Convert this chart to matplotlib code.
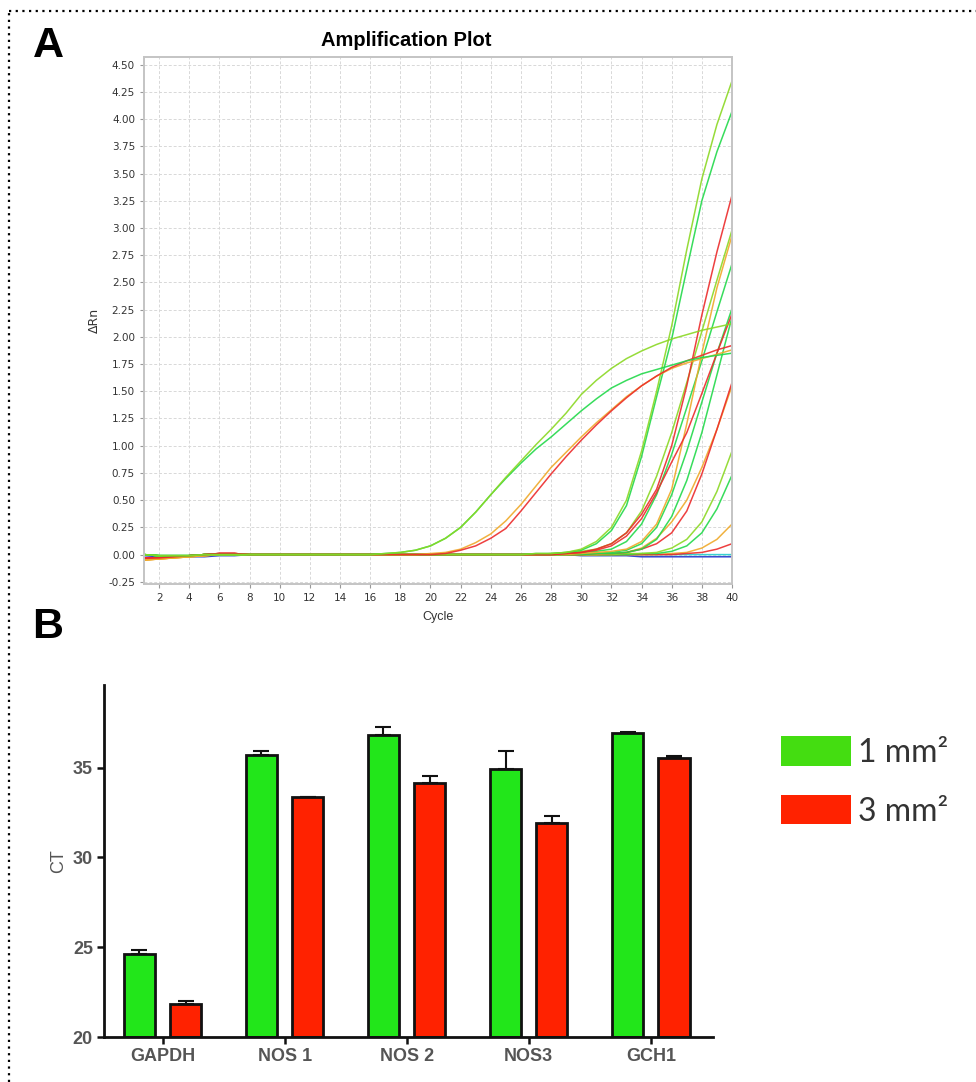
import matplotlib
matplotlib.use("Agg")
import matplotlib.pyplot as plt
from matplotlib.patches import Patch
from matplotlib.lines import Line2D

# ---- panel A: amplification curves (delta Rn per cycle) ----
cycles = list(range(1, 41))

# cycles 1-16 baseline
base_red = [-0.03, -0.03, -0.02, -0.01, 0.00, 0.01, 0.01, 0.00, 0.00, 0.00, 0.00, 0.00, 0.00, 0.00, 0.00, 0.00]
base_orange = [-0.05, -0.04, -0.03, -0.02, -0.01, 0.00, 0.00, 0.00, 0.00, 0.00, 0.00, 0.00, 0.00, 0.00, 0.00, 0.00]
base_green = [0.00, -0.01, -0.01, -0.01, 0.00, 0.00, 0.00, 0.00, 0.00, 0.00, 0.00, 0.00, 0.00, 0.00, 0.00, 0.00]
base_blue = [-0.01, -0.02, -0.02, -0.02, -0.02, -0.01, -0.01, 0.00, 0.00, 0.00, 0.00, 0.00, 0.00, 0.00, 0.00, 0.00]

# cycles 17-40
flat_blue = [0.00, 0.00, 0.00, 0.00, 0.00, 0.00, 0.00, 0.00, 0.00, 0.00, 0.00, 0.00, 0.00, -0.01, -0.01, -0.01, -0.01, -0.02, -0.02, -0.02, -0.02, -0.02, -0.02, -0.02]
flat_cyan = [0.00, 0.00, 0.00, 0.00, 0.00, 0.00, 0.00, 0.00, 0.00, 0.00, 0.00, 0.00, 0.00, 0.00, 0.00, 0.00, 0.00, 0.00, 0.00, 0.00, 0.00, 0.00, 0.00, 0.00]
yg_early = [0.01, 0.02, 0.04, 0.08, 0.15, 0.25, 0.39, 0.55, 0.71, 0.86, 1.01, 1.15, 1.30, 1.47, 1.60, 1.71, 1.80, 1.87, 1.93, 1.98, 2.02, 2.06, 2.09, 2.12]
gr_early = [0.01, 0.02, 0.04, 0.08, 0.15, 0.25, 0.39, 0.55, 0.70, 0.84, 0.97, 1.08, 1.20, 1.32, 1.43, 1.53, 1.60, 1.66, 1.70, 1.74, 1.78, 1.81, 1.83, 1.85]
or_early = [0.00, 0.00, 0.00, 0.01, 0.02, 0.05, 0.11, 0.19, 0.31, 0.46, 0.63, 0.80, 0.94, 1.08, 1.21, 1.33, 1.45, 1.55, 1.64, 1.71, 1.76, 1.80, 1.84, 1.88]
rd_early = [0.00, 0.00, 0.00, 0.00, 0.01, 0.04, 0.08, 0.15, 0.24, 0.40, 0.57, 0.74, 0.90, 1.05, 1.19, 1.32, 1.44, 1.55, 1.64, 1.72, 1.78, 1.83, 1.88, 1.92]
yg_steep = [0.00, 0.00, 0.00, 0.00, 0.00, 0.00, 0.00, 0.00, 0.00, 0.00, 0.01, 0.01, 0.02, 0.05, 0.12, 0.25, 0.50, 0.95, 1.50, 2.10, 2.80, 3.45, 3.95, 4.35]
gr_steep = [0.00, 0.00, 0.00, 0.00, 0.00, 0.00, 0.00, 0.00, 0.00, 0.00, 0.01, 0.01, 0.02, 0.04, 0.10, 0.22, 0.45, 0.90, 1.45, 1.98, 2.62, 3.25, 3.70, 4.07]
rd_steep = [0.00, 0.00, 0.00, 0.00, 0.00, 0.00, 0.00, 0.00, 0.00, 0.00, 0.00, 0.00, 0.01, 0.02, 0.05, 0.10, 0.20, 0.37, 0.60, 1.00, 1.55, 2.20, 2.78, 3.30]
rd_mid = [0.00, 0.00, 0.00, 0.00, 0.00, 0.00, 0.00, 0.00, 0.00, 0.00, 0.00, 0.00, 0.01, 0.02, 0.04, 0.08, 0.17, 0.33, 0.57, 0.85, 1.12, 1.48, 1.85, 2.21]
or_late1 = [0.00, 0.00, 0.00, 0.00, 0.00, 0.00, 0.00, 0.00, 0.00, 0.00, 0.00, 0.00, 0.00, 0.01, 0.02, 0.03, 0.05, 0.12, 0.28, 0.60, 1.20, 1.85, 2.45, 2.93]
yg_late1 = [0.00, 0.00, 0.00, 0.00, 0.00, 0.00, 0.00, 0.00, 0.00, 0.00, 0.00, 0.01, 0.02, 0.03, 0.05, 0.10, 0.20, 0.40, 0.72, 1.12, 1.58, 2.05, 2.52, 2.98]
gr_late1 = [0.00, 0.00, 0.00, 0.00, 0.00, 0.00, 0.00, 0.00, 0.00, 0.00, 0.00, 0.00, 0.01, 0.02, 0.03, 0.05, 0.12, 0.28, 0.55, 0.92, 1.35, 1.78, 2.23, 2.67]
gr_late2 = [0.00, 0.00, 0.00, 0.00, 0.00, 0.00, 0.00, 0.00, 0.00, 0.00, 0.00, 0.00, 0.00, 0.01, 0.01, 0.02, 0.04, 0.10, 0.25, 0.55, 0.95, 1.40, 1.85, 2.26]
gr_late3 = [0.00, 0.00, 0.00, 0.00, 0.00, 0.00, 0.00, 0.00, 0.00, 0.00, 0.00, 0.00, 0.00, 0.00, 0.01, 0.01, 0.02, 0.05, 0.14, 0.35, 0.68, 1.12, 1.65, 2.18]
rd_late2 = [0.00, 0.00, 0.00, 0.00, 0.00, 0.00, 0.00, 0.00, 0.00, 0.00, 0.00, 0.00, 0.00, 0.00, 0.01, 0.01, 0.02, 0.05, 0.10, 0.20, 0.40, 0.74, 1.15, 1.58]
or_late2 = [0.00, 0.00, 0.00, 0.00, 0.00, 0.00, 0.00, 0.00, 0.00, 0.00, 0.00, 0.00, 0.00, 0.00, 0.00, 0.01, 0.02, 0.06, 0.15, 0.30, 0.50, 0.80, 1.15, 1.55]
yg_late2 = [0.00, 0.00, 0.00, 0.00, 0.00, 0.00, 0.00, 0.00, 0.00, 0.00, 0.00, 0.00, 0.00, 0.00, 0.00, 0.00, 0.01, 0.01, 0.02, 0.06, 0.14, 0.30, 0.58, 0.95]
gr_late4 = [0.00, 0.00, 0.00, 0.00, 0.00, 0.00, 0.00, 0.00, 0.00, 0.00, 0.00, 0.00, 0.00, 0.00, 0.00, 0.00, 0.00, 0.01, 0.01, 0.03, 0.08, 0.20, 0.42, 0.73]
or_late3 = [0.00, 0.00, 0.00, 0.00, 0.00, 0.00, 0.00, 0.00, 0.00, 0.00, 0.00, 0.00, 0.00, 0.00, 0.00, 0.00, 0.00, 0.00, 0.00, 0.01, 0.02, 0.06, 0.14, 0.28]
rd_late3 = [0.00, 0.00, 0.00, 0.00, 0.00, 0.00, 0.00, 0.00, 0.00, 0.00, 0.00, 0.00, 0.00, 0.00, 0.00, 0.00, 0.00, 0.00, 0.00, 0.00, 0.01, 0.02, 0.05, 0.10]

YG = "#8bd824"
GR = "#22d94a"
RD = "#ec2b2b"
OR = "#efa92a"

curves = [
    (base_blue + flat_blue, "#2233cc"),
    (base_green + flat_cyan, "#22cccc"),
    (base_orange + or_late3, OR),
    (base_red + rd_late3, RD),
    (base_green + gr_late4, GR),
    (base_green + yg_late2, YG),
    (base_orange + or_late2, OR),
    (base_red + rd_late2, RD),
    (base_green + gr_late3, GR),
    (base_green + gr_late2, GR),
    (base_green + gr_late1, GR),
    (base_green + yg_late1, YG),
    (base_orange + or_late1, OR),
    (base_red + rd_mid, RD),
    (base_red + rd_steep, RD),
    (base_green + gr_steep, GR),
    (base_green + yg_steep, YG),
    (base_orange + or_early, OR),
    (base_red + rd_early, RD),
    (base_green + gr_early, GR),
    (base_green + yg_early, YG),
]

# ---- panel B: CT values ----
genes = ["GAPDH", "NOS 1", "NOS 2", "NOS3", "GCH1"]
ct_1mm = [24.63, 35.73, 36.79, 34.95, 36.95]
err_1mm = [0.20, 0.22, 0.48, 1.00, 0.02]
ct_3mm = [21.84, 33.35, 34.16, 31.94, 35.56]
err_3mm = [0.15, 0.02, 0.38, 0.38, 0.10]
legend_labels = ["1 mm²", "3 mm²"]

fig = plt.figure(figsize=(9.76, 10.82), dpi=100)
W, H = 976.0, 1082.0

# dotted frame (top + left)
fig.add_artist(Line2D([9 / W, 1.0], [1 - 11 / H, 1 - 11 / H], color="black", lw=1.6, ls=(0, (1, 2))))
fig.add_artist(Line2D([9 / W, 9 / W], [0.0, 1 - 11 / H], color="black", lw=1.6, ls=(0, (1, 2))))

# ---------- A ----------
ax = fig.add_axes([144 / W, 1 - 584 / H, 588 / W, 527 / H])
for vals, col in curves:
    ax.plot(cycles, vals, color=col, lw=1.1, alpha=0.9)
ax.set_xlim(1, 40)
ax.set_ylim(-0.27, 4.57)
ax.set_xticks(range(2, 41, 2))
ax.set_yticks([i * 0.25 - 0.25 for i in range(20)])
ax.set_yticklabels(["%.2f" % (i * 0.25 - 0.25) for i in range(20)])
ax.grid(True, color="#d8d8d8", ls=(0, (3, 2)), lw=0.7)
ax.set_axisbelow(True)
for s in ax.spines.values():
    s.set_color("#c4c4c4")
    s.set_linewidth(1.4)
ax.tick_params(labelsize=7.5, labelcolor="#333333", color="#999999", length=3, width=0.8)
ax.set_xlabel("Cycle", fontsize=9, color="#333333", family="Liberation Sans", labelpad=6)
ax.set_ylabel("ΔRn", fontsize=9, color="#333333", family="DejaVu Sans", labelpad=5)
fig.text(406 / W, 1 - 40 / H, "Amplification Plot", ha="center", va="center",
         fontsize=14.5, fontweight="bold", family="Liberation Sans")
fig.text(48 / W, 1 - 46 / H, "A", ha="center", va="center", fontsize=31,
         fontweight="bold", family="Liberation Sans")

# ---------- B ----------
bx = fig.add_axes([104 / W, 1 - 1037 / H, 609 / W, 352 / H])
pos = list(range(len(genes)))
off = 0.19
bw = 0.255
bx.bar([p - off for p in pos], [v - 20 for v in ct_1mm], bottom=20, width=bw, color="#22e61a",
       edgecolor="#111111", linewidth=2.0, zorder=2)
bx.bar([p + off for p in pos], [v - 20 for v in ct_3mm], bottom=20, width=bw, color="#ff2200",
       edgecolor="#111111", linewidth=2.0, zorder=2)
bx.errorbar([p - off for p in pos], ct_1mm, yerr=[[0] * len(genes), err_1mm], fmt="none",
            ecolor="#111111", elinewidth=1.5, capsize=6, capthick=1.5, zorder=3)
bx.errorbar([p + off for p in pos], ct_3mm, yerr=[[0] * len(genes), err_3mm], fmt="none",
            ecolor="#111111", elinewidth=1.5, capsize=6, capthick=1.5, zorder=3)
bx.set_xlim(-0.48, 4.51)
bx.set_ylim(20, 39.6)
bx.set_yticks([20, 25, 30, 35])
bx.set_xticks(pos)
bx.set_xticklabels(genes)
for s in ["top", "right"]:
    bx.spines[s].set_visible(False)
for s in ["left", "bottom"]:
    bx.spines[s].set_color("#111111")
    bx.spines[s].set_linewidth(2.0)
bx.tick_params(axis="both", length=5, width=1.8, color="#111111", labelcolor="#555555", pad=3)
for lab in bx.get_xticklabels() + bx.get_yticklabels():
    lab.set_fontweight("bold")
    lab.set_family("Liberation Sans")
    lab.set_fontsize(13)
bx.set_ylabel("CT", fontsize=13, color="#555555", family="Liberation Sans", labelpad=4)
fig.text(48 / W, 1 - 627 / H, "B", ha="center", va="center", fontsize=31,
         fontweight="bold", family="Liberation Sans")

handles = [Patch(facecolor="#44dd11", edgecolor="none", label=legend_labels[0]),
           Patch(facecolor="#ff2200", edgecolor="none", label=legend_labels[1])]
leg = fig.legend(handles=handles, loc="upper left", bbox_to_anchor=(781 / W, 1 - 736 / H),
                 frameon=False, prop={"family": "Lato", "size": 23}, handlelength=2.2,
                 handleheight=1.05, labelspacing=0.85, handletextpad=0.2, borderpad=0,
                 borderaxespad=0)
for t in leg.get_texts():
    t.set_color("#333333")

fig.savefig("out.png", dpi=100)
